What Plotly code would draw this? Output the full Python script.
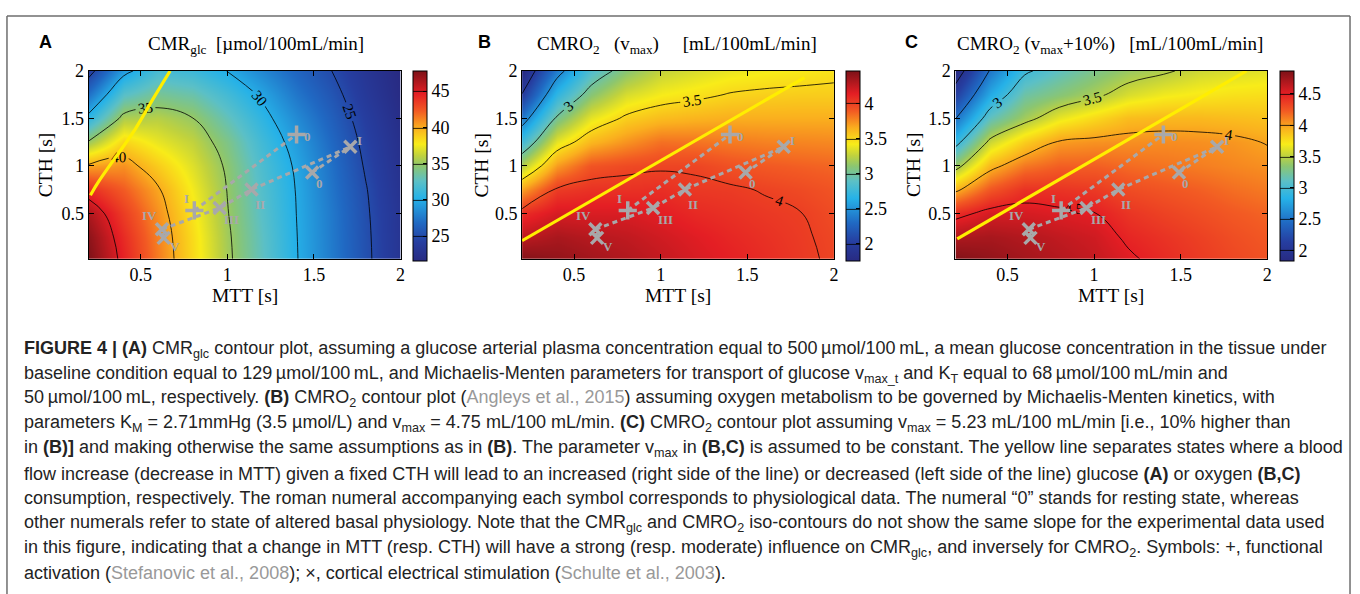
import plotly.graph_objects as go

W, H = 1360, 594

# ---------------- data ----------------
mtt = [0.2, 0.4, 0.6, 0.8, 1.0, 1.2, 1.4, 1.6, 1.8, 2.0]          # MTT [s]
cth = [0.0, 0.25, 0.5, 0.75, 1.0, 1.25, 1.5, 1.75, 2.0]            # CTH [s]

# one list per MTT column, values from CTH=0 (bottom) to CTH=2 (top)
cmr_glc = [
    [47.8, 47.3, 46.3, 44.1, 40.3, 35.2, 30.7, 27.3, 24.1],
    [44.5, 44.1, 43.4, 42.3, 40.8, 38.6, 35.6, 32.5, 29.3],
    [41.4, 41.2, 40.8, 40.2, 38.9, 37.3, 35.9, 33.9, 31.8],
    [38.4, 38.3, 38.0, 37.6, 37.0, 36.2, 35.04, 33.3, 31.3],
    [35.4, 35.3, 35.1, 34.95, 34.7, 34.1, 32.9, 31.6, 29.97],
    [32.8, 32.7, 32.5, 32.3, 32.0, 31.5, 30.7, 29.7, 28.3],
    [30.1, 30.05, 29.98, 29.9, 29.7, 29.2, 28.4, 27.5, 26.6],
    [27.7, 27.65, 27.6, 27.4, 27.2, 26.8, 26.3, 25.7, 25.03],
    [25.4, 25.35, 25.25, 25.1, 24.8, 24.5, 24.1, 23.6, 23.2],
    [23.1, 23.05, 23.0, 22.8, 22.6, 22.4, 22.1, 21.8, 21.6],
]
cmro2_vmax = [
    [4.46, 4.26, 4.07, 3.70, 3.23, 2.78, 2.37, 2.01, 1.76],
    [4.40, 4.32, 4.18, 4.02, 3.71, 3.375, 3.03, 2.71, 2.40],
    [4.35, 4.28, 4.17, 4.06, 3.92, 3.62, 3.37, 3.10, 2.85],
    [4.30, 4.25, 4.17, 4.06, 3.96, 3.73, 3.53, 3.33, 3.10],
    [4.24, 4.20, 4.14, 4.07, 3.98, 3.83, 3.60, 3.42, 3.27],
    [4.18, 4.15, 4.09, 4.03, 3.98, 3.82, 3.63, 3.46, 3.33],
    [4.13, 4.10, 4.06, 4.02, 3.93, 3.80, 3.65, 3.51, 3.38],
    [4.08, 4.06, 4.03, 3.99, 3.90, 3.78, 3.65, 3.53, 3.41],
    [4.03, 4.02, 4.005, 3.96, 3.88, 3.77, 3.65, 3.54, 3.43],
    [3.98, 3.97, 3.95, 3.92, 3.86, 3.76, 3.65, 3.54, 3.46],
]
cmro2_vmax10 = [
    [4.87, 4.70, 4.43, 3.95, 3.40, 2.90, 2.49, 2.14, 1.83],
    [4.80, 4.72, 4.56, 4.26, 3.93, 3.56, 3.14, 2.80, 2.52],
    [4.74, 4.68, 4.56, 4.42, 4.14, 3.83, 3.42, 3.20, 2.96],
    [4.68, 4.63, 4.53, 4.41, 4.22, 4.02, 3.65, 3.33, 3.13],
    [4.62, 4.58, 4.505, 4.38, 4.22, 4.05, 3.78, 3.45, 3.28],
    [4.53, 4.47, 4.40, 4.30, 4.18, 4.06, 3.90, 3.60, 3.40],
    [4.45, 4.41, 4.34, 4.26, 4.15, 4.07, 3.92, 3.68, 3.47],
    [4.38, 4.35, 4.29, 4.22, 4.12, 4.06, 3.92, 3.72, 3.56],
    [4.32, 4.29, 4.24, 4.17, 4.09, 4.04, 3.90, 3.75, 3.60],
    [4.27, 4.24, 4.20, 4.13, 4.06, 3.99, 3.88, 3.76, 3.63],
]

color_ranges = [(21.6, 47.8), (1.76, 4.46), (1.83, 4.87)]
contour_levels = [(25, 45, 5), (2.0, 4.0, 0.5), (2.0, 4.5, 0.5)]
cbar_ticks = [[25, 30, 35, 40, 45], [2, 2.5, 3, 3.5, 4], [2, 2.5, 3, 3.5, 4, 4.5]]

# yellow separating lines
yellow_mtt = [[0.21, 0.26, 0.41, 0.47, 0.57, 0.67], [0.20, 1.83], [0.21, 1.88]]
yellow_cth = [[0.69, 0.84, 1.23, 1.39, 1.70, 2.00], [0.21, 1.93], [0.23, 2.00]]

# functional activation (+)
plus_mtt = [0.81, 1.40]
plus_cth = [0.53, 1.33]
plus_lbl = ["I", "0"]
# cortical electrical stimulation (x)
cross_mtt = [1.49, 1.71, 1.14, 0.956, 0.623, 0.633]
cross_cth = [0.93, 1.20, 0.75, 0.555, 0.33, 0.24]
cross_lbl = ["0", "I", "II", "III", "IV", "V"]
cross_chain1 = ["V", "IV", "III", "II", "I"]
cross_chain2 = ["0", "I"]

titles = [
    "CMR<sub>glc</sub>\u00a0\u00a0[µmol/100mL/min]",
    "CMRO<sub>2</sub>\u00a0\u00a0\u00a0(v<sub>max</sub>)\u00a0\u00a0\u00a0\u00a0\u00a0[mL/100mL/min]",
    "CMRO<sub>2</sub>\u00a0(v<sub>max</sub>+10%)\u00a0\u00a0\u00a0[mL/100mL/min]",
]
letters = ["A", "B", "C"]

caption_lines = [
    "<b>FIGURE 4 | (A)</b> CMR<sub>glc</sub> contour plot, assuming a glucose arterial plasma concentration equal to 500\u2009µmol/100\u2009mL, a mean glucose concentration in the tissue under",
    "baseline condition equal to 129\u2009µmol/100\u2009mL, and Michaelis-Menten parameters for transport of glucose v<sub>max_t</sub> and K<sub>T</sub> equal to 68\u2009µmol/100\u2009mL/min and",
    "50\u2009µmol/100\u2009mL, respectively. <b>(B)</b> CMRO<sub>2</sub> contour plot (<span style='color:#999999'>Angleys et al., 2015</span>) assuming oxygen metabolism to be governed by Michaelis-Menten kinetics, with",
    "parameters K<sub>M</sub> = 2.71mmHg (3.5 µmol/L) and v<sub>max</sub> = 4.75 mL/100 mL/min. <b>(C)</b> CMRO<sub>2</sub> contour plot assuming v<sub>max</sub> = 5.23 mL/100 mL/min [i.e., 10% higher than",
    "in <b>(B)]</b> and making otherwise the same assumptions as in <b>(B)</b>. The parameter v<sub>max</sub> in <b>(B,C)</b> is assumed to be constant. The yellow line separates states where a blood",
    "flow increase (decrease in MTT) given a fixed CTH will lead to an increased (right side of the line) or decreased (left side of the line) glucose <b>(A)</b> or oxygen <b>(B,C)</b>",
    "consumption, respectively. The roman numeral accompanying each symbol corresponds to physiological data. The numeral \u201c0\u201d stands for resting state, whereas",
    "other numerals refer to state of altered basal physiology. Note that the CMR<sub>glc</sub> and CMRO<sub>2</sub> iso-contours do not show the same slope for the experimental data used",
    "in this figure, indicating that a change in MTT (resp. CTH) will have a strong (resp. moderate) influence on CMR<sub>glc</sub>, and inversely for CMRO<sub>2</sub>. Symbols: +, functional",
    "activation (<span style='color:#999999'>Stefanovic et al., 2008</span>); \u00d7, cortical electrical stimulation (<span style='color:#999999'>Schulte et al., 2003</span>).",
]

# ---------------- layout geometry (pixels) ----------------
plot_x = [(89, 402), (524, 837), (959, 1272)]
plot_y = (62, 253)
cbar_x = [415, 849, 1285]
title_x = [257, 679, 1114]
letter_x = [46, 486, 915]
cth_title_x = [46, 483, 917]

# label offsets in pixels (right, up)
lbl_shift = {
    ("+", "I"): (-8, 12), ("+", "0"): (11, -2),
    ("x", "0"): (7, -11), ("x", "I"): (9, 6), ("x", "II"): (8, -15),
    ("x", "III"): (12, -12), ("x", "IV"): (-12, 14), ("x", "V"): (11, -9),
}

jet = [
    [0.0, "rgb(40,42,130)"], [0.10, "rgb(38,62,160)"], [0.20, "rgb(32,105,195)"],
    [0.33, "rgb(38,178,232)"], [0.42, "rgb(92,192,198)"], [0.50, "rgb(140,198,112)"],
    [0.555, "rgb(192,210,62)"], [0.615, "rgb(248,236,25)"], [0.70, "rgb(250,175,30)"],
    [0.79, "rgb(242,90,35)"], [0.88, "rgb(228,30,36)"], [1.0, "rgb(125,18,24)"],
]

GRAY = "rgb(168,168,170)"
SERIF = "Liberation Serif"

fig = go.Figure()
panels = [cmr_glc, cmro2_vmax, cmro2_vmax10]
annotations = []

for k, cols in enumerate(panels):
    s = "" if k == 0 else str(k + 1)
    xa, ya = "x" + s, "y" + s
    z = [[cols[i][j] for i in range(len(mtt))] for j in range(len(cth))]
    zmin, zmax = color_ranges[k]
    c0, c1, cs = contour_levels[k]
    fig.add_trace(go.Contour(
        x=mtt, y=cth, z=z, zmin=zmin, zmax=zmax, zauto=False,
        colorscale=jet, autocontour=False,
        contours=dict(start=c0, end=c1, size=cs, coloring="heatmap",
                      showlabels=True,
                      labelfont=dict(family=SERIF, size=15, color="black")),
        line=dict(color="black", width=0.8, smoothing=1.2),
        colorbar=dict(x=cbar_x[k] / W, xanchor="left", xpad=0, ypad=0,
                      y=1 - 158.5 / H, yanchor="middle", len=193 / H, lenmode="fraction",
                      thickness=14, thicknessmode="pixels",
                      outlinewidth=1, outlinecolor="black",
                      tickvals=cbar_ticks[k], ticks="inside", ticklen=4,
                      tickcolor="black", tickfont=dict(family=SERIF, size=18, color="black")),
        xaxis=xa, yaxis=ya, hoverinfo="skip",
    ))
    # yellow line
    fig.add_trace(go.Scatter(x=yellow_mtt[k], y=yellow_cth[k], mode="lines",
                             line=dict(color="rgb(255,238,0)", width=3.2, shape="spline"),
                             xaxis=xa, yaxis=ya, showlegend=False, hoverinfo="skip"))
    # dashed connections
    idx = {l: i for i, l in enumerate(cross_lbl)}
    for chain in (cross_chain1, cross_chain2):
        fig.add_trace(go.Scatter(x=[cross_mtt[idx[l]] for l in chain],
                                 y=[cross_cth[idx[l]] for l in chain], mode="lines",
                                 line=dict(color=GRAY, width=3, dash="5px,4px"),
                                 xaxis=xa, yaxis=ya, showlegend=False, hoverinfo="skip"))
    fig.add_trace(go.Scatter(x=plus_mtt, y=plus_cth, mode="lines",
                             line=dict(color=GRAY, width=3, dash="5px,4px"),
                             xaxis=xa, yaxis=ya, showlegend=False, hoverinfo="skip"))
    # markers
    fig.add_trace(go.Scatter(x=cross_mtt, y=cross_cth, mode="markers",
                             marker=dict(symbol="x-thin", size=12, line=dict(color=GRAY, width=3.5)),
                             xaxis=xa, yaxis=ya, showlegend=False, hoverinfo="skip"))
    fig.add_trace(go.Scatter(x=plus_mtt, y=plus_cth, mode="markers",
                             marker=dict(symbol="cross-thin", size=13, line=dict(color=GRAY, width=3.5)),
                             xaxis=xa, yaxis=ya, showlegend=False, hoverinfo="skip"))
    for sym, xs, ys, ls in (("+", plus_mtt, plus_cth, plus_lbl), ("x", cross_mtt, cross_cth, cross_lbl)):
        for xv, yv, lv in zip(xs, ys, ls):
            dx, dy = lbl_shift[(sym, lv)]
            annotations.append(dict(x=xv, y=yv, xref=xa, yref=ya, text="<b>%s</b>" % lv,
                                    showarrow=False, xshift=dx, yshift=dy,
                                    xanchor="center", yanchor="middle",
                                    font=dict(family=SERIF, size=13, color=GRAY)))
    # axes
    x0, x1 = plot_x[k]
    axis_common = dict(showline=True, linecolor="black", linewidth=1, mirror="ticks",
                       ticks="inside", ticklen=5, tickcolor="black", showgrid=False,
                       zeroline=False, tickfont=dict(family=SERIF, size=18, color="black"))
    fig.update_layout(**{
        "xaxis" + s: dict(domain=[x0 / W, x1 / W], range=[0.2, 2.0], anchor=ya,
                          tickvals=[0.5, 1, 1.5, 2], ticktext=["0.5", "1", "1.5", "2"], **axis_common),
        "yaxis" + s: dict(domain=[1 - plot_y[1] / H, 1 - plot_y[0] / H], range=[0.02, 2.0], anchor=xa,
                          tickvals=[0.5, 1, 1.5, 2], ticktext=["0.5", "1", "1.5", "2"], **axis_common),
    })
    # titles / labels
    annotations.append(dict(x=title_x[k] / W, y=1 - 36 / H, xref="paper", yref="paper",
                            text=titles[k], showarrow=False, xanchor="center", yanchor="middle",
                            font=dict(family=SERIF, size=19, color="black")))
    annotations.append(dict(x=letter_x[k] / W, y=1 - 33 / H, xref="paper", yref="paper",
                            text="<b>%s</b>" % letters[k], showarrow=False,
                            xanchor="center", yanchor="middle",
                            font=dict(family="Liberation Sans", size=18, color="black")))
    annotations.append(dict(x=(x0 + x1) / 2 / W, y=1 - 290 / H, xref="paper", yref="paper",
                            text="MTT [s]", showarrow=False, xanchor="center", yanchor="middle",
                            font=dict(family=SERIF, size=19.5, color="black")))
    annotations.append(dict(x=cth_title_x[k] / W, y=1 - 158 / H, xref="paper", yref="paper",
                            text="CTH [s]", showarrow=False, textangle=-90,
                            xanchor="center", yanchor="middle",
                            font=dict(family=SERIF, size=19.5, color="black")))

for i, line in enumerate(caption_lines):
    annotations.append(dict(x=22 / W, y=1 - (345 + i * 25.3) / H, xref="paper", yref="paper",
                            text=line, showarrow=False, xanchor="left", yanchor="middle",
                            align="left",
                            font=dict(family="Liberation Sans", size=18,
                                      color="rgb(35,35,35)")))

border = "rgb(110,110,110)"
shapes = [
    dict(type="line", xref="paper", yref="paper", x0=7 / W, x1=1355 / W, y0=1 - 6 / H, y1=1 - 6 / H,
         line=dict(color=border, width=1.5)),
    dict(type="line", xref="paper", yref="paper", x0=7 / W, x1=7 / W, y0=0, y1=1 - 6 / H,
         line=dict(color=border, width=1.5)),
    dict(type="line", xref="paper", yref="paper", x0=1355 / W, x1=1355 / W, y0=0, y1=1 - 6 / H,
         line=dict(color=border, width=1.5)),
]

fig.update_layout(width=W, height=H, margin=dict(l=0, r=0, t=0, b=0),
                  paper_bgcolor="white", plot_bgcolor="white", showlegend=False,
                  annotations=annotations, shapes=shapes,
                  font=dict(family=SERIF, color="black"))

fig.write_html("out.html", config={"displayModeBar": False},
               post_script="document.body.style.margin='0';document.body.style.overflow='hidden';")
